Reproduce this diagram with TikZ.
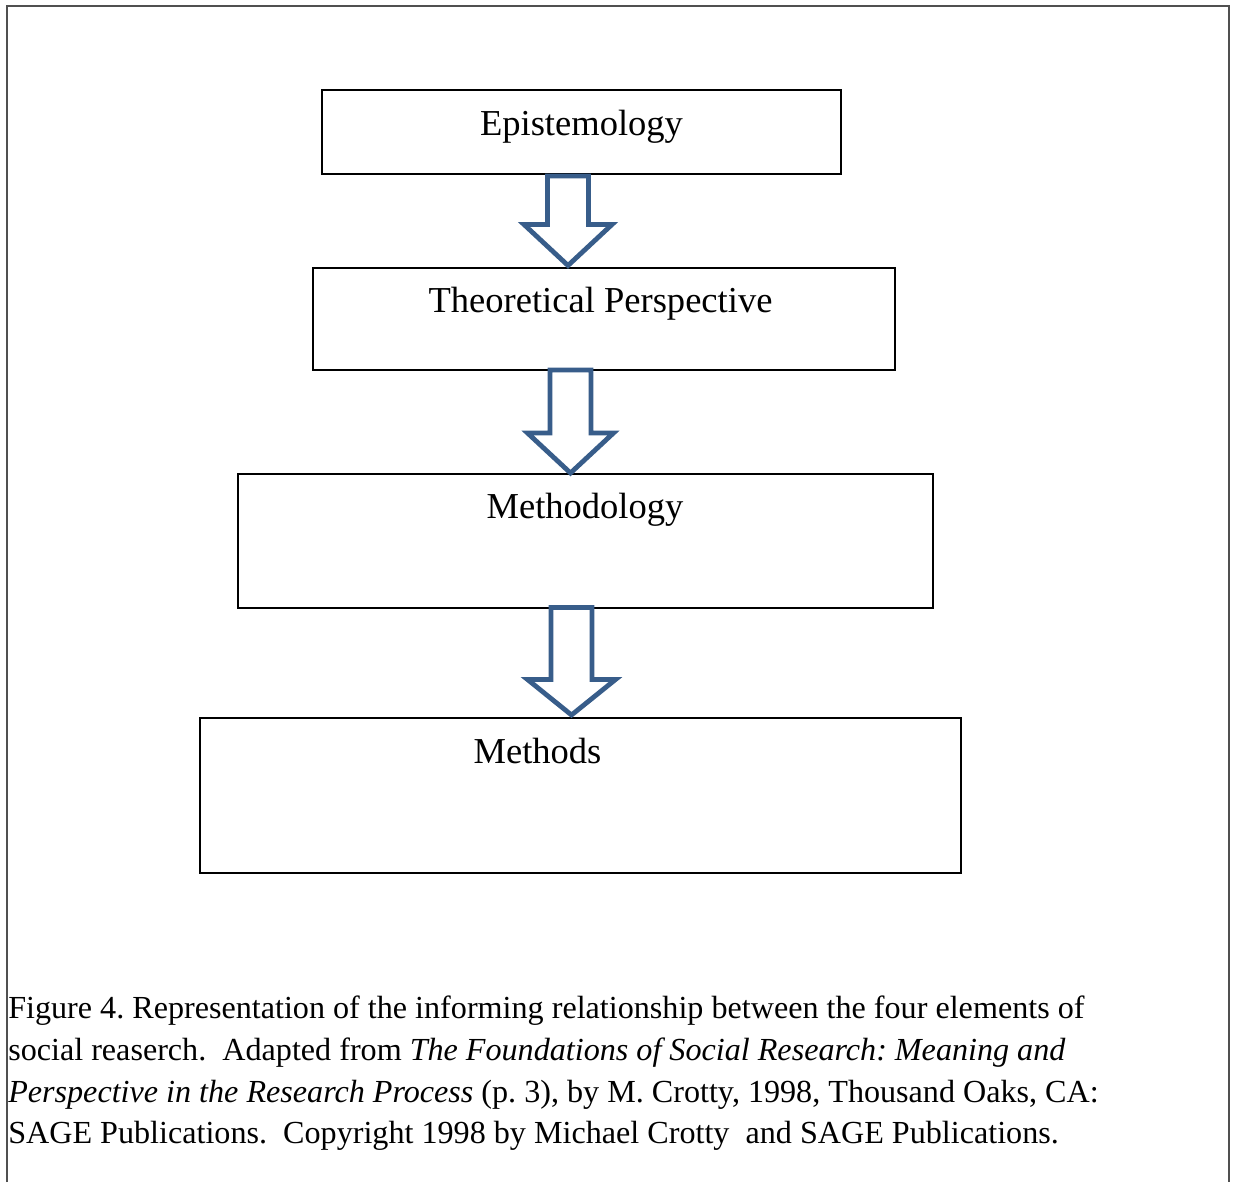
\documentclass[tikz,border=0pt]{standalone}
\usepackage{fontspec}
\setmainfont{Liberation Serif}
\usetikzlibrary{fit}
\definecolor{arrowblue}{RGB}{56,93,138}
\definecolor{framegray}{RGB}{80,80,80}
\newcommand\blockdown[6]{% cx, shaft half, top, head base, tip, head half
  \draw[blockarrow] ({#1-#2},#3) -- ({#1+#2},#3) -- ({#1+#2},#4) -- ({#1+#6},#4)
    -- (#1,#5) -- ({#1-#6},#4) -- ({#1-#2},#4) -- cycle;}
\frenchspacing
\begin{document}
\begin{tikzpicture}[x=0.75pt,y=-0.75pt,
  box/.style={draw=black,line width=0.9pt,inner sep=0pt,fill=none},
  lbl/.style={inner sep=0pt,font=\fontsize{27.4}{32}\selectfont,anchor=base},
  captionline/.style={inner sep=0pt,font=\fontsize{24.1}{28}\selectfont,anchor=base west},
  blockarrow/.style={draw=arrowblue,line width=3.6pt,fill=white,line join=miter},
  frameline/.style={draw=framegray,line width=1.5pt}]
\useasboundingbox (0,0) rectangle (1235,1182);
\draw[frameline] (7,1182) -- (7,6) -- (1229,6) -- (1229,1182);
% boxes
\node[box,fit={(322,90) (841,174)}] (epi) {};
\node[box,fit={(313,268) (895,370)}] (theo) {};
\node[box,fit={(238,474) (933,608)}] (mthy) {};
\node[box,fit={(200,718) (961,873)}] (mths) {};
% arrows
\blockdown{568}{20.5}{176}{224.5}{265.5}{44}
\blockdown{570.5}{20.5}{370}{433}{473}{43}
\blockdown{571.5}{20.5}{607.5}{679.5}{715}{44}
% labels
\node[lbl] (epiT) at (581.5,135) {Epistemology};
\node[lbl] (theoT) at (600.5,312) {Theoretical Perspective};
\node[lbl] (mthyT) at (585,518) {Methodology};
\node[lbl] (mthsT) at (537.5,763) {Methods};
% caption
\node[captionline] (c1) at (8,1018) {Figure 4. Representation of the informing relationship between the four elements of};
\node[captionline] (c2) at (8,1060) {social reaserch.\ \ Adapted from \textit{The Foundations of Social Research: Meaning and}};
\node[captionline] (c3) at (8,1102) {\textit{Perspective in the Research Process} (p. 3), by M. Crotty, 1998, Thousand Oaks, CA:};
\node[captionline] (c4) at (8,1143) {SAGE Publications.\ \ Copyright 1998 by Michael Crotty\ \ and SAGE Publications.};
\end{tikzpicture}
\end{document}
